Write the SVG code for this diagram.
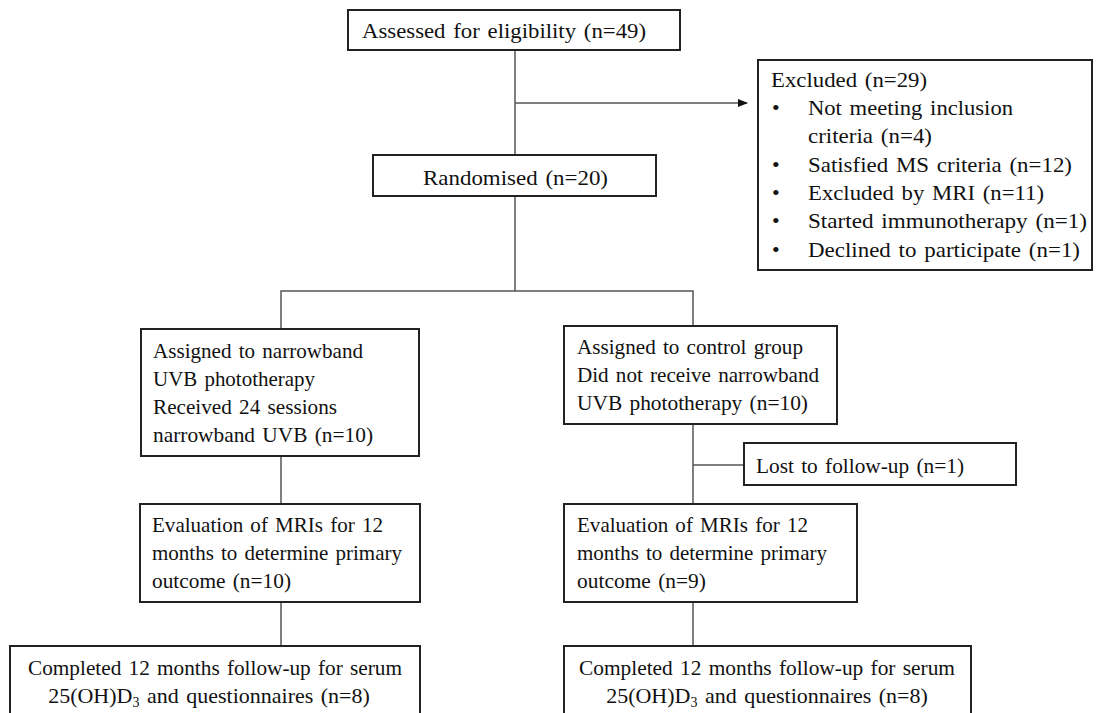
<svg xmlns="http://www.w3.org/2000/svg" width="1097" height="713" viewBox="0 0 1097 713">
<style>
.box{fill:#fff;stroke:#222;stroke-width:2}
.t{font-family:"Liberation Serif","Times New Roman",serif;font-size:22px;fill:#111;word-spacing:2px}
.c{text-anchor:middle}
.ln{fill:none;stroke:#555;stroke-width:1.5}
</style>
<defs>
<marker id="ah" markerWidth="10" markerHeight="10" refX="9" refY="5" orient="auto" markerUnits="userSpaceOnUse">
<path d="M0,1 L10,5 L0,9 Z" fill="#111"/>
</marker>
</defs>
<rect width="1097" height="713" fill="#fff"/>
<g id="connectors">
<path class="ln" d="M515,50 V155"/>
<path class="ln" d="M515,103 H747" marker-end="url(#ah)"/>
<path class="ln" d="M515,196 V291"/>
<path class="ln" d="M281,329 V291 H693 V326"/>
<path class="ln" d="M281,456 V504"/>
<path class="ln" d="M281,602 V646"/>
<path class="ln" d="M693,424 V504"/>
<path class="ln" d="M693,465 H744"/>
<path class="ln" d="M693,602 V646"/>
</g>
<g id="assessed">
<rect class="box" x="348" y="10" width="332" height="40"/>
<text class="t" x="362" y="38" textLength="284" lengthAdjust="spacingAndGlyphs">Assessed for eligibility (n=49)</text>
</g>
<g id="excluded">
<rect class="box" x="758" y="60" width="334" height="210"/>
<text class="t" x="771" y="87" textLength="156" lengthAdjust="spacingAndGlyphs">Excluded (n=29)</text>
<text class="t" x="772" y="115">•</text><text class="t" x="808" y="115" textLength="205" lengthAdjust="spacingAndGlyphs">Not meeting inclusion</text>
<text class="t" x="808" y="143" textLength="124" lengthAdjust="spacingAndGlyphs">criteria (n=4)</text>
<text class="t" x="772" y="172">•</text><text class="t" x="808" y="172" textLength="264" lengthAdjust="spacingAndGlyphs">Satisfied MS criteria (n=12)</text>
<text class="t" x="772" y="200">•</text><text class="t" x="808" y="200" textLength="236" lengthAdjust="spacingAndGlyphs">Excluded by MRI (n=11)</text>
<text class="t" x="772" y="228">•</text><text class="t" x="808" y="228" textLength="279" lengthAdjust="spacingAndGlyphs">Started immunotherapy (n=1)</text>
<text class="t" x="772" y="257">•</text><text class="t" x="808" y="257" textLength="272" lengthAdjust="spacingAndGlyphs">Declined to participate (n=1)</text>
</g>
<g id="randomised">
<rect class="box" x="373" y="155" width="283" height="41"/>
<text class="t" x="423" y="185" textLength="185" lengthAdjust="spacingAndGlyphs">Randomised (n=20)</text>
</g>
<g id="uvb">
<rect class="box" x="141" y="329" width="278" height="127"/>
<text class="t" x="153" y="358" textLength="210" lengthAdjust="spacingAndGlyphs">Assigned to narrowband</text>
<text class="t" x="153" y="386" textLength="162" lengthAdjust="spacingAndGlyphs">UVB phototherapy</text>
<text class="t" x="153" y="414" textLength="184" lengthAdjust="spacingAndGlyphs">Received 24 sessions</text>
<text class="t" x="153" y="442" textLength="220" lengthAdjust="spacingAndGlyphs">narrowband UVB (n=10)</text>
</g>
<g id="control">
<rect class="box" x="564" y="326" width="273" height="98"/>
<text class="t" x="577" y="354" textLength="226" lengthAdjust="spacingAndGlyphs">Assigned to control group</text>
<text class="t" x="577" y="382" textLength="242" lengthAdjust="spacingAndGlyphs">Did not receive narrowband</text>
<text class="t" x="577" y="410" textLength="231" lengthAdjust="spacingAndGlyphs">UVB phototherapy (n=10)</text>
</g>
<g id="lost">
<rect class="box" x="744" y="443" width="272" height="42"/>
<text class="t" x="756" y="473" textLength="208" lengthAdjust="spacingAndGlyphs">Lost to follow-up (n=1)</text>
</g>
<g id="eval-left">
<rect class="box" x="140" y="504" width="280" height="98"/>
<text class="t" x="152" y="532" textLength="231" lengthAdjust="spacingAndGlyphs">Evaluation of MRIs for 12</text>
<text class="t" x="152" y="560" textLength="250" lengthAdjust="spacingAndGlyphs">months to determine primary</text>
<text class="t" x="152" y="588" textLength="139" lengthAdjust="spacingAndGlyphs">outcome (n=10)</text>
</g>
<g id="eval-right">
<rect class="box" x="564" y="504" width="293" height="98"/>
<text class="t" x="577" y="532" textLength="231" lengthAdjust="spacingAndGlyphs">Evaluation of MRIs for 12</text>
<text class="t" x="577" y="560" textLength="250" lengthAdjust="spacingAndGlyphs">months to determine primary</text>
<text class="t" x="577" y="588" textLength="129" lengthAdjust="spacingAndGlyphs">outcome (n=9)</text>
</g>
<g id="complete-left">
<rect class="box" x="10" y="646" width="410" height="80"/>
<text class="t" x="28" y="675" textLength="374" lengthAdjust="spacingAndGlyphs">Completed 12 months follow-up for serum</text>
<text class="t c" x="209" y="703">25(OH)D<tspan font-size="14" dy="4">3</tspan><tspan dy="-4"> and questionnaires (n=8)</tspan></text>
</g>
<g id="complete-right">
<rect class="box" x="564" y="646" width="407" height="80"/>
<text class="t" x="579" y="675" textLength="376" lengthAdjust="spacingAndGlyphs">Completed 12 months follow-up for serum</text>
<text class="t c" x="767" y="703" word-spacing="0">25(OH)D<tspan font-size="14" dy="4">3</tspan><tspan dy="-4"> and questionnaires (n=8)</tspan></text>
</g>
</svg>
